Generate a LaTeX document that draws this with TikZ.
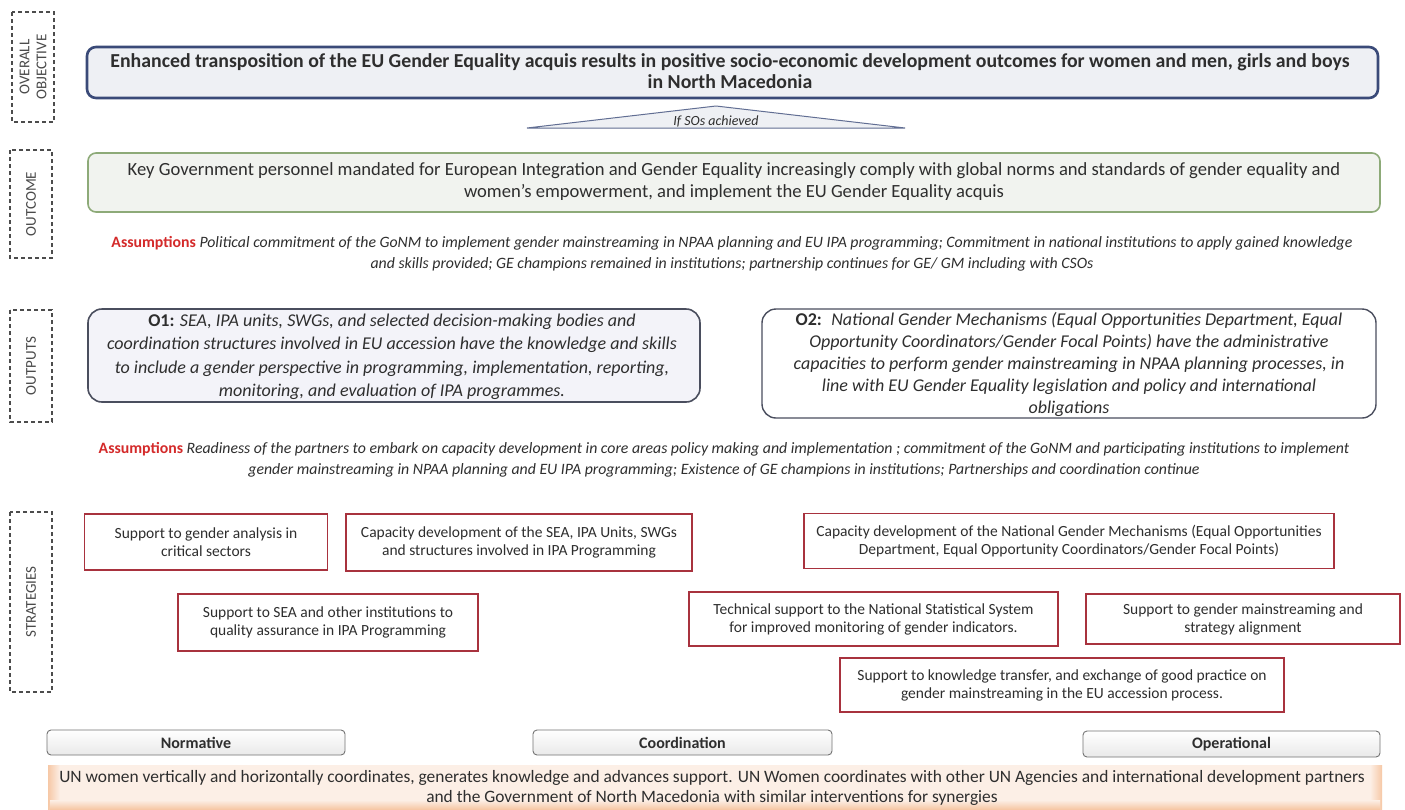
\documentclass[tikz,border=0pt]{standalone}
\usepackage{fontspec}
\setmainfont{Carlito}
\usetikzlibrary{shapes.geometric}
\definecolor{navy}{HTML}{3A4A78}
\definecolor{titlefill}{HTML}{EEF0F4}
\definecolor{ocgreen}{HTML}{8DAA78}
\definecolor{ocfill}{HTML}{F1F3EF}
\definecolor{outfill}{HTML}{F3F3F9}
\definecolor{outdraw}{HTML}{4A4E5E}
\definecolor{stred}{HTML}{A8323E}
\definecolor{asred}{HTML}{D42A2A}
\definecolor{txt}{HTML}{2E2E2E}
\definecolor{lblgray}{HTML}{4A4A4A}
\definecolor{barfill}{HTML}{E9E9E9}
\definecolor{band}{HTML}{FCEFE6}
\definecolor{bandedge}{HTML}{F6C8A6}
\tikzset{
  lvl/.style={draw=black!70, line width=1.1pt, dash pattern=on 4pt off 3pt},
  lvltext/.style={text=lblgray, font=\fontsize{15}{17}\selectfont, rotate=90, align=center},
  stratbox/.style={draw=stred, line width=1.4pt, fill=white, text=txt, align=center, font=\fontsize{15.5}{18}\selectfont},
  barbox/.style={draw=black!55, line width=0.9pt, rounded corners=4pt, top color=white, bottom color=barfill, font=\bfseries\fontsize{16}{16}\selectfont, text=txt},
  asmp/.style={align=center, text=txt, font=\itshape\fontsize{15.8}{21.5}\selectfont},
}
\begin{document}
\begin{tikzpicture}[x=1pt,y=-1pt]
\useasboundingbox (0,0) rectangle (1405,809);
\fill[white] (0,0) rectangle (1405,809);

% level labels
\draw[lvl] (12,12) rectangle (54,122);
\node[lvltext] (lo) at (33,67) {OVERALL\\OBJECTIVE};
\draw[lvl] (10,150) rectangle (52,258);
\node[lvltext] (lc) at (31,204) {OUTCOME};
\draw[lvl] (10,310) rectangle (52,422);
\node[lvltext] (lp) at (31,366) {OUTPUTS};
\draw[lvl] (10,512) rectangle (52,692);
\node[lvltext] (ls) at (31,602) {STRATEGIES};

% overall objective
\draw[navy, line width=2.6pt, fill=titlefill, rounded corners=9pt] (87,47) rectangle (1378,98);
\node[font=\bfseries\fontsize{19.8}{20.5}\selectfont, text=txt, align=center] (obj) at (730,71)
  {Enhanced transposition of the EU Gender Equality acquis results in positive socio-economic development outcomes for women and men, girls and boys\\in North Macedonia};

% triangle
\draw[navy!80, line width=1pt, fill=titlefill] (527,128) -- (716,106) -- (905,128) -- cycle;
\node[font=\itshape\fontsize{14}{14}\selectfont, text=txt, anchor=base] (tri) at (716,125) {If SOs achieved};

% outcome
\draw[ocgreen, line width=1.6pt, fill=ocfill, rounded corners=8pt] (88,153) rectangle (1380,212);
\node[font=\fontsize{18.6}{22}\selectfont, text=txt, align=center] (oc) at (734,182)
  {Key Government personnel mandated for European Integration and Gender Equality increasingly comply with global norms and standards of gender equality and\\women's empowerment, and implement the EU Gender Equality acquis};

% assumptions 1
\node[asmp] (a1) at (732,254)
  {{\upshape\bfseries\color{asred}Assumptions} Political commitment of the GoNM to implement gender mainstreaming in NPAA planning and EU IPA programming; Commitment in national institutions to apply gained knowledge\\and skills provided; GE champions remained in institutions; partnership continues for GE/ GM including with CSOs};

% outputs
\draw[outdraw, line width=1.6pt, fill=outfill, rounded corners=14pt] (88,309) rectangle (700,402);
\node[font=\itshape\fontsize{18}{23.5}\selectfont, text=txt, align=center] (o1) at (392,357)
  {{\upshape\bfseries O1:} SEA, IPA units, SWGs, and selected decision-making bodies and\\coordination structures involved in EU accession have the knowledge and skills\\to include a gender perspective in programming, implementation, reporting,\\monitoring, and evaluation of IPA programmes.};
\draw[outdraw, line width=1.4pt, fill=white, rounded corners=14pt] (762,309) rectangle (1376,418);
\node[font=\itshape\fontsize{18}{22}\selectfont, text=txt, align=center] (o2) at (1069,364)
  {{\upshape\bfseries O2:}~ National Gender Mechanisms (Equal Opportunities Department, Equal\\Opportunity Coordinators/Gender Focal Points) have the administrative\\capacities to perform gender mainstreaming in NPAA planning processes, in\\line with EU Gender Equality legislation and policy and international\\obligations};

% assumptions 2
\node[asmp] (a2) at (724,460)
  {{\upshape\bfseries\color{asred}Assumptions} Readiness of the partners to embark on capacity development in core areas policy making and implementation ; commitment of the GoNM and participating institutions to implement\\gender mainstreaming in NPAA planning and EU IPA programming; Existence of GE champions in institutions; Partnerships and coordination continue};

% strategies
\node[stratbox, minimum width=243pt, minimum height=56pt] (s1) at (206,542) {Support to gender analysis in\\critical sectors};
\node[stratbox, minimum width=346pt, minimum height=57pt] (s2) at (519,542.5) {Capacity development of the SEA, IPA Units, SWGs\\and structures involved in IPA Programming};
\node[stratbox, minimum width=530pt, minimum height=55pt] (s3) at (1069,541) {Capacity development of the National Gender Mechanisms (Equal Opportunities\\Department, Equal Opportunity Coordinators/Gender Focal Points)};
\node[stratbox, minimum width=300pt, minimum height=57pt] (s4) at (328,622.5) {Support to SEA and other institutions to\\quality assurance in IPA Programming};
\node[stratbox, minimum width=369pt, minimum height=54pt] (s5) at (873.5,619) {Technical support to the National Statistical System\\for improved monitoring of gender indicators.};
\node[stratbox, minimum width=314pt, minimum height=50pt] (s6) at (1243,619) {Support to gender mainstreaming and\\strategy alignment};
\node[stratbox, minimum width=444pt, minimum height=54pt] (s7) at (1062,685) {Support to knowledge transfer, and exchange of good practice on\\gender mainstreaming in the EU accession process.};

% bottom
\node[barbox, minimum width=298pt, minimum height=25pt] (nor) at (196,742.5) {Normative};
\node[barbox, minimum width=299pt, minimum height=25pt] (coo) at (682.5,742.5) {Coordination};
\node[barbox, minimum width=297pt, minimum height=26pt] (ope) at (1231.5,744) {Operational};
\fill[band] (50,765) rectangle (1380,809);
\shade[left color=bandedge, right color=band] (48,765) rectangle (60,809);
\shade[left color=band, right color=bandedge] (1370,765) rectangle (1382,809);
\shade[top color=band, bottom color=bandedge] (50,800) rectangle (1380,809);
\node[font=\fontsize{17.4}{20}\selectfont, text=txt, align=center] (band) at (712,788)
  {UN women vertically and horizontally coordinates, generates knowledge and advances support. UN Women coordinates with other UN Agencies and international development partners\\and the Government of North Macedonia with similar interventions for synergies};
\end{tikzpicture}
\end{document}
